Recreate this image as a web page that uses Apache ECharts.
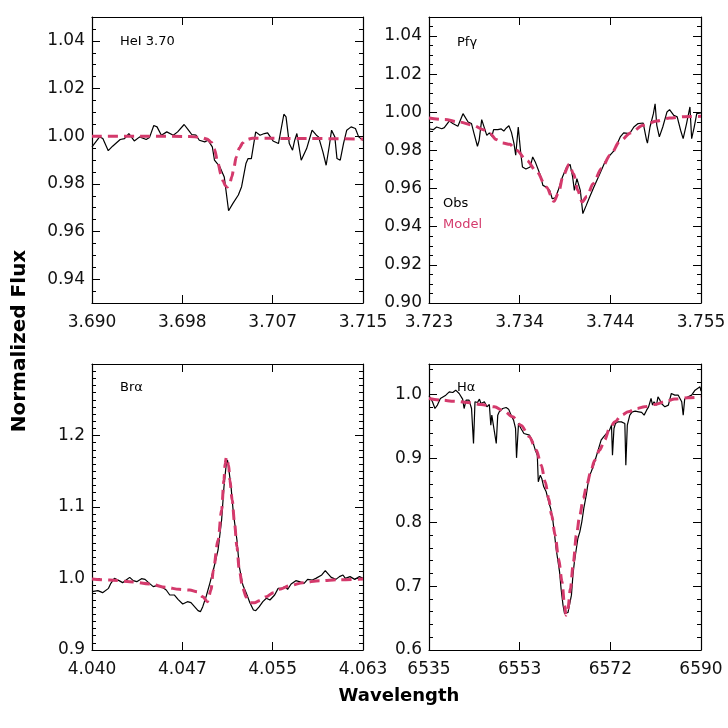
<!DOCTYPE html>
<html>
<head>
<meta charset="utf-8">
<script src="https://cdn.jsdelivr.net/npm/echarts@6/dist/echarts.min.js"></script>
<style>
html, body { margin: 0; padding: 0; background: #fff; }
#myChart { width: 728px; height: 728px; }
</style>
</head>
<body>
<div id="myChart"></div>
<script>
// ---- HeI 3.70 ----
const heObsWave = [3.6900,3.6901,3.6907,3.6910,3.6915,3.6919,3.6926,3.6930,3.6934,3.6939,3.6944,3.6950,3.6953,3.6957,3.6960,3.6964,3.6969,3.6975,3.6979,3.6985,3.6989,3.6992,3.6996,3.6999,3.7004,3.7007,3.7011,3.7013,3.7018,3.7022,3.7026,3.7030,3.7035,3.7038,3.7042,3.7044,3.7047,3.7051,3.7055,3.7059,3.7062,3.7067,3.7072,3.7077,3.7079,3.7082,3.7085,3.7087,3.7089,3.7091,3.7093,3.7098,3.7103,3.7107,3.7109,3.7113,3.7116,3.7119,3.7121,3.7124,3.7126,3.7129,3.7132,3.7135,3.7139,3.7143,3.7146,3.7150]
const heObsFlux = [0.9955,0.9962,0.9997,0.9990,0.9939,0.9958,0.9986,0.9990,1.0011,0.9980,0.9997,0.9986,0.9994,1.0045,1.0039,1.0004,1.0018,1.0004,1.0018,1.0049,1.0025,1.0007,1.0004,0.9983,0.9976,0.9983,0.9955,0.9899,0.9871,0.9829,0.9687,0.9718,0.9753,0.9788,0.9885,0.9906,0.9906,1.0018,1.0004,1.0011,1.0014,0.9980,0.9969,1.0092,1.0081,0.9969,0.9941,0.9983,1.0011,0.9955,0.9899,0.9948,1.0025,1.0004,0.9997,0.9934,0.9878,0.9962,1.0025,0.9997,0.9906,0.9899,0.9969,1.0025,1.0039,1.0032,0.9997,0.9983]
const heModelWave = [3.6900,3.6950,3.6990,3.7000,3.7006,3.7010,3.7013,3.7016,3.7019,3.7021,3.7023,3.7025,3.7027,3.7029,3.7031,3.7033,3.7036,3.7039,3.7042,3.7048,3.7060,3.7100,3.7150]
const heModelFlux = [1.0000,1.0000,0.9999,0.9995,0.9988,0.9975,0.9945,0.9890,0.9840,0.9812,0.9792,0.9787,0.9800,0.9830,0.9870,0.9912,0.9950,0.9972,0.9985,0.9991,0.9991,0.9990,0.9988]
const heXTicks = [3.690, 3.69833, 3.70667, 3.715]
const heXLabels = ['3.690', '3.698', '3.707', '3.715']
const heYTicks = [0.94, 0.96, 0.98, 1.00, 1.02, 1.04]

// ---- Pf gamma ----
const pfObsWave = [3.7230,3.7235,3.7239,3.7245,3.7248,3.7254,3.7258,3.7264,3.7270,3.7276,3.7280,3.7283,3.7287,3.7289,3.7292,3.7294,3.7298,3.7301,3.7304,3.7306,3.7311,3.7315,3.7318,3.7321,3.7324,3.7327,3.7330,3.7332,3.7335,3.7338,3.7340,3.7344,3.7349,3.7352,3.7355,3.7361,3.7364,3.7368,3.7372,3.7375,3.7379,3.7382,3.7387,3.7392,3.7396,3.7399,3.7401,3.7404,3.7406,3.7408,3.7411,3.7415,3.7419,3.7424,3.7431,3.7437,3.7443,3.7448,3.7455,3.7459,3.7466,3.7471,3.7476,3.7482,3.7486,3.7487,3.7490,3.7494,3.7496,3.7498,3.7501,3.7505,3.7510,3.7513,3.7518,3.7522,3.7526,3.7529,3.7530,3.7533,3.7537,3.7539,3.7542,3.7545,3.7547,3.7550]
const pfObsFlux = [0.9914,0.9909,0.9923,0.9914,0.9920,0.9955,0.9941,0.9927,0.9993,0.9949,0.9941,0.9888,0.9822,0.9853,0.9962,0.9955,0.9879,0.9892,0.9874,0.9909,0.9909,0.9913,0.9902,0.9918,0.9930,0.9895,0.9836,0.9775,0.9923,0.9783,0.9713,0.9703,0.9713,0.9766,0.9740,0.9670,0.9617,0.9608,0.9591,0.9547,0.9553,0.9591,0.9661,0.9713,0.9727,0.9661,0.9591,0.9652,0.9647,0.9591,0.9469,0.9512,0.9556,0.9608,0.9678,0.9740,0.9775,0.9801,0.9871,0.9892,0.9888,0.9923,0.9941,0.9944,0.9853,0.9839,0.9923,0.9993,1.0045,0.9932,0.9871,0.9923,1.0002,1.0014,0.9984,0.9976,0.9906,0.9862,0.9862,0.9941,1.0028,0.9862,0.9923,0.9993,0.9997,0.9997]
const pfModelWave = [3.7230,3.7248,3.7266,3.7282,3.7294,3.7302,3.7309,3.7317,3.7325,3.7333,3.7345,3.7357,3.7368,3.7377,3.7382,3.7388,3.7395,3.7400,3.7405,3.7410,3.7416,3.7423,3.7433,3.7443,3.7455,3.7467,3.7482,3.7498,3.7513,3.7530,3.7550]
const pfModelFlux = [0.9970,0.9962,0.9949,0.9932,0.9909,0.9888,0.9857,0.9839,0.9832,0.9801,0.9748,0.9687,0.9608,0.9533,0.9574,0.9670,0.9727,0.9678,0.9591,0.9530,0.9560,0.9626,0.9705,0.9775,0.9850,0.9892,0.9932,0.9955,0.9970,0.9977,0.9979]
const pfXTicks = [3.723, 3.73367, 3.74433, 3.755]
const pfXLabels = ['3.723', '3.734', '3.744', '3.755']
const pfYTicks = [0.90, 0.92, 0.94, 0.96, 0.98, 1.00, 1.02, 1.04]

// ---- Br alpha ----
const brObsWave = [4.0397,4.0402,4.0406,4.0411,4.0413,4.0416,4.0420,4.0423,4.0426,4.0429,4.0432,4.0435,4.0439,4.0442,4.0445,4.0449,4.0452,4.0456,4.0460,4.0463,4.0467,4.0470,4.0474,4.0478,4.0481,4.0484,4.0487,4.0489,4.0491,4.0494,4.0497,4.0500,4.0504,4.0507,4.0509,4.0511,4.0512,4.0513,4.0515,4.0517,4.0520,4.0522,4.0525,4.0528,4.0531,4.0534,4.0536,4.0539,4.0542,4.0545,4.0548,4.0552,4.0555,4.0558,4.0561,4.0563,4.0566,4.0570,4.0573,4.0577,4.0580,4.0584,4.0587,4.0592,4.0595,4.0597,4.0600,4.0604,4.0607,4.0610,4.0612,4.0616,4.0620,4.0624,4.0627]
const brObsFlux = [0.9816,0.9830,0.9802,0.9862,0.9932,1.0002,0.9970,0.9942,0.9979,1.0016,0.9970,0.9956,0.9998,0.9988,0.9942,0.9886,0.9900,0.9886,0.9839,0.9769,0.9769,0.9709,0.9643,0.9676,0.9662,0.9606,0.9550,0.9536,0.9606,0.9755,0.9932,1.0119,1.0399,1.0818,1.1284,1.1610,1.1657,1.1541,1.1284,1.0911,1.0538,1.0166,0.9909,0.9793,0.9662,0.9559,0.9550,0.9606,0.9676,0.9723,0.9699,0.9769,0.9862,0.9862,0.9886,0.9848,0.9923,0.9970,0.9956,0.9932,0.9988,0.9979,1.0002,1.0049,1.0110,1.0072,1.0016,0.9988,1.0026,1.0049,1.0002,1.0026,0.9988,1.0026,1.0002]
const brModelWave = [4.0397,4.0412,4.0429,4.0446,4.0460,4.0471,4.0480,4.0486,4.0491,4.0495,4.0498,4.0500,4.0504,4.0507,4.0509,4.0510,4.0511,4.0513,4.0514,4.0516,4.0518,4.0520,4.0522,4.0525,4.0528,4.0531,4.0535,4.0539,4.0545,4.0551,4.0556,4.0565,4.0576,4.0590,4.0607,4.0627]
const brModelFlux = [0.9993,0.9979,0.9956,0.9923,0.9876,0.9848,0.9839,0.9816,0.9746,0.9676,0.9839,1.0119,1.0538,1.0958,1.1378,1.1610,1.1694,1.1587,1.1378,1.1098,1.0772,1.0445,1.0119,0.9862,0.9737,0.9662,0.9662,0.9690,0.9746,0.9802,0.9848,0.9900,0.9942,0.9970,0.9984,0.9993]
const brXTicks = [4.0397, 4.04737, 4.05503, 4.0627]
const brXLabels = ['4.040', '4.047', '4.055', '4.063']
const brYTicks = [0.9, 1.0, 1.1, 1.2]

// ---- H alpha ----
const haObsWave = [6535.0,6535.7,6536.2,6536.7,6537.3,6537.7,6538.4,6539.1,6539.8,6540.4,6541.1,6541.5,6541.8,6542.1,6542.5,6543.1,6543.6,6544.0,6544.3,6544.8,6545.2,6545.5,6546.2,6546.7,6547.2,6547.5,6547.7,6548.1,6548.6,6548.9,6549.2,6549.9,6550.6,6551.1,6551.6,6552.1,6552.5,6552.7,6553.1,6553.6,6554.2,6554.6,6555.3,6556.0,6556.5,6556.9,6557.1,6557.5,6557.8,6558.2,6558.7,6559.2,6559.6,6560.0,6560.4,6560.7,6561.1,6561.4,6561.7,6562.1,6562.4,6562.7,6563.1,6563.4,6563.8,6564.1,6564.4,6564.8,6565.1,6565.5,6565.9,6566.3,6566.8,6567.1,6567.5,6567.8,6568.3,6568.7,6569.2,6569.5,6569.8,6570.3,6570.9,6571.5,6571.9,6572.1,6572.4,6572.7,6573.2,6573.6,6573.9,6574.2,6574.6,6574.8,6575.1,6575.6,6576.1,6576.7,6577.4,6578.0,6578.5,6579.0,6579.4,6579.9,6580.2,6580.5,6581.0,6581.3,6581.7,6582.0,6582.7,6583.4,6584.0,6584.7,6585.4,6586.1,6586.4,6586.7,6587.4,6588.1,6588.8,6589.3,6589.8,6590.0]
const haObsFlux = [0.9982,0.9888,0.9783,0.9836,0.9940,0.9914,0.9992,1.0044,1.0034,1.0070,1.0018,0.9992,0.9930,0.9783,0.9914,0.9914,0.9783,0.9235,0.9888,0.9877,0.9930,0.9862,0.9888,0.9809,0.9846,0.9522,0.9679,0.9679,0.9235,0.9679,0.9731,0.9783,0.9799,0.9773,0.9679,0.9601,0.9470,0.9010,0.9548,0.9470,0.9392,0.9418,0.9366,0.9261,0.9131,0.9052,0.8634,0.8739,0.8687,0.8556,0.8478,0.8321,0.8217,0.8060,0.7799,0.7590,0.7381,0.7225,0.6963,0.6702,0.6572,0.6556,0.6587,0.6702,0.6859,0.7172,0.7381,0.7590,0.7747,0.7851,0.8008,0.8217,0.8426,0.8582,0.8739,0.8791,0.8896,0.9000,0.9131,0.9209,0.9287,0.9339,0.9392,0.9444,0.9522,0.9052,0.9470,0.9548,0.9574,0.9601,0.9574,0.9601,0.9548,0.8896,0.9522,0.9679,0.9731,0.9742,0.9731,0.9721,0.9679,0.9757,0.9809,0.9940,0.9836,0.9888,0.9836,0.9966,0.9914,0.9862,0.9809,0.9836,1.0018,0.9992,0.9992,0.9888,0.9679,0.9930,0.9966,0.9992,1.0070,1.0097,1.0123,1.0055]
const haModelWave = [6535.0,6537.4,6540.1,6542.8,6545.5,6548.2,6550.2,6551.9,6553.6,6555.3,6556.7,6557.7,6558.5,6559.2,6559.8,6560.5,6561.2,6561.9,6562.4,6562.7,6563.1,6563.6,6564.2,6564.8,6565.5,6566.2,6566.9,6567.7,6568.5,6569.5,6570.5,6571.5,6572.6,6573.9,6575.3,6577.0,6578.6,6580.7,6582.7,6584.7,6587.4,6590.0]
const haModelFlux = [0.9940,0.9914,0.9898,0.9877,0.9846,0.9809,0.9742,0.9653,0.9522,0.9339,0.9131,0.8896,0.8634,0.8373,0.8112,0.7799,0.7433,0.7068,0.6702,0.6546,0.6650,0.6963,0.7381,0.7799,0.8112,0.8373,0.8582,0.8791,0.8974,0.9131,0.9287,0.9470,0.9574,0.9679,0.9731,0.9783,0.9809,0.9846,0.9888,0.9930,0.9950,0.9966]
const haXTicks = [6535, 6553.333, 6571.667, 6590]
const haXLabels = ['6535', '6553', '6572', '6590']
const haYTicks = [0.6, 0.7, 0.8, 0.9, 1.0]

const PINK = '#d43a6c'
const FONT = "'DejaVu Sans', sans-serif"

function zip(xs, ys){
  let out = []
  for(var i=0;i<xs.length;i++){ out.push([xs[i], ys[i]]) }
  return out
}
function stepList(lo, hi, step){//minor tick positions
  let out = []
  let k = Math.ceil(lo/step - 1e-6)
  while(k*step <= hi + 1e-9){ out.push(+(k*step).toFixed(6)); k++ }
  return out
}
function nearestLabel(v, ticks, labels){
  let best = 0
  for(var k=1;k<ticks.length;k++){
    if(Math.abs(ticks[k]-v) < Math.abs(ticks[best]-v)) best = k
  }
  return labels[best]
}

const panels = [
  { obs:[heObsWave, heObsFlux], model:[heModelWave, heModelFlux], xr:[3.690, 3.715], xt:heXTicks, xl:heXLabels,
    yr:[0.93, 1.05], yt:heYTicks, minor:0.005, dig:2, box:{left:92, top:17, width:271, height:286} },
  { obs:[pfObsWave, pfObsFlux], model:[pfModelWave, pfModelFlux], xr:[3.723, 3.755], xt:pfXTicks, xl:pfXLabels,
    yr:[0.90, 1.05], yt:pfYTicks, minor:0.005, dig:2, box:{left:429, top:17, width:272, height:286} },
  { obs:[brObsWave, brObsFlux], model:[brModelWave, brModelFlux], xr:[4.0397, 4.0627], xt:brXTicks, xl:brXLabels,
    yr:[0.9, 1.3], yt:brYTicks, minor:0.01, dig:1, box:{left:92, top:364, width:271, height:286} },
  { obs:[haObsWave, haObsFlux], model:[haModelWave, haModelFlux], xr:[6535, 6590], xt:haXTicks, xl:haXLabels,
    yr:[0.6, 1.048], yt:haYTicks, minor:0.02, dig:1, box:{left:429, top:364, width:272, height:286} }
]

let grid = [], xAxis = [], yAxis = [], series = []
const line = {show:true, onZero:false, lineStyle:{color:'#000', width:1.2}}
const lbl = {color:'#111', fontSize:17, fontFamily:FONT}

panels.forEach((p, i) => {
  grid.push(Object.assign({outerBoundsMode:'none'}, p.box))
  // bottom + top x axes
  xAxis.push({gridIndex:i, type:'value', position:'bottom', min:p.xr[0], max:p.xr[1], axisLine:line,
    axisTick:{inside:true, length:8, customValues:p.xt, lineStyle:{color:'#000', width:1}},
    axisLabel:Object.assign({customValues:p.xt, margin:11, formatter:(v)=>nearestLabel(v, p.xt, p.xl)}, lbl),
    splitLine:{show:false}})
  xAxis.push({gridIndex:i, type:'value', position:'top', min:p.xr[0], max:p.xr[1], axisLine:line,
    axisTick:{inside:true, length:8, customValues:p.xt, lineStyle:{color:'#000', width:1}},
    axisLabel:{show:false}, splitLine:{show:false}})
  let minor = stepList(p.yr[0], p.yr[1], p.minor)
  // left: major with labels, minor; right: major, minor
  yAxis.push({gridIndex:i, type:'value', position:'left', min:p.yr[0], max:p.yr[1], axisLine:line,
    axisTick:{inside:true, length:8, customValues:p.yt, lineStyle:{color:'#000', width:1}},
    axisLabel:Object.assign({customValues:p.yt, margin:7, formatter:(v)=>v.toFixed(p.dig)}, lbl),
    splitLine:{show:false}})
  yAxis.push({gridIndex:i, type:'value', position:'left', min:p.yr[0], max:p.yr[1], axisLine:{show:false},
    axisTick:{inside:true, length:4, customValues:minor, lineStyle:{color:'#000', width:1}},
    axisLabel:{show:false}, splitLine:{show:false}})
  yAxis.push({gridIndex:i, type:'value', position:'right', min:p.yr[0], max:p.yr[1], axisLine:line,
    axisTick:{inside:true, length:8, customValues:p.yt, lineStyle:{color:'#000', width:1}},
    axisLabel:{show:false}, splitLine:{show:false}})
  yAxis.push({gridIndex:i, type:'value', position:'right', min:p.yr[0], max:p.yr[1], axisLine:{show:false},
    axisTick:{inside:true, length:4, customValues:minor, lineStyle:{color:'#000', width:1}},
    axisLabel:{show:false}, splitLine:{show:false}})

  series.push({name:'Obs', type:'line', xAxisIndex:2*i, yAxisIndex:4*i, data:zip(p.obs[0], p.obs[1]),
    symbol:'none', lineStyle:{color:'#000', width:1.2}, z:2})
  series.push({name:'Model', type:'line', xAxisIndex:2*i, yAxisIndex:4*i, data:zip(p.model[0], p.model[1]),
    symbol:'none', smooth:0.3, smoothMonotone:'x', lineStyle:{color:PINK, width:3, type:[10, 6]}, z:3})
})

function txt(x, y, s, color, size, weight, rot){
  return {type:'text', x:x, y:y, rotation:rot || 0, z:10,
    style:{text:s, fill:color, fontSize:size, fontWeight:weight || 'normal', fontFamily:FONT,
      align: rot ? 'center' : (weight === 'bold' ? 'center' : 'left'), verticalAlign:'middle'}}
}

let myChart = echarts.init(document.getElementById('myChart'))
myChart.setOption({
  animation: false,
  backgroundColor: '#fff',
  grid: grid,
  xAxis: xAxis,
  yAxis: yAxis,
  series: series,
  graphic: [
    txt(120, 42, 'HeI 3.70', '#000', 13),
    txt(457, 43, 'Pf\u03b3', '#000', 13),
    txt(443, 204, 'Obs', '#000', 13),
    txt(443, 225, 'Model', PINK, 13),
    txt(120, 388, 'Br\u03b1', '#000', 13),
    txt(457, 388, 'H\u03b1', '#000', 13),
    txt(399, 696, 'Wavelength', '#000', 18, 'bold'),
    txt(20, 341, 'Normalized Flux', '#000', 20, 'bold', Math.PI/2)
  ]
})
</script>
</body>
</html>
